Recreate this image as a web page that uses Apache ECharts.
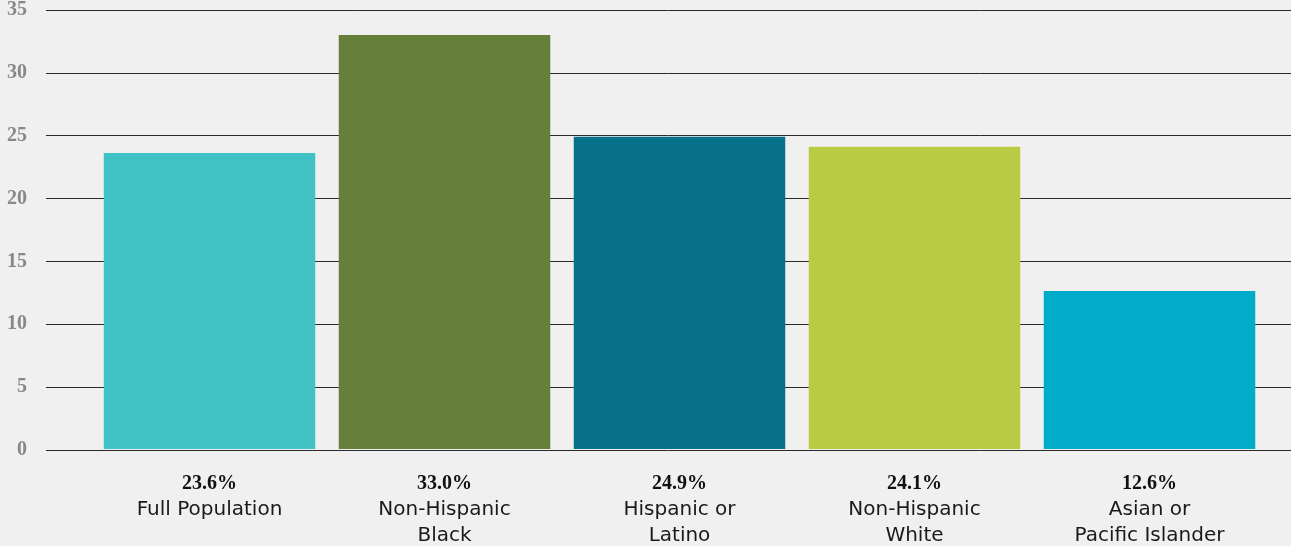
<!DOCTYPE html>
<html>
<head>
<meta charset="utf-8">
<script src="https://cdn.jsdelivr.net/npm/echarts@6/dist/echarts.min.js"></script>
<style>
  html, body { margin: 0; padding: 0; background: #f0f0f0; }
  #chart { width: 1291px; height: 546px; }
</style>
</head>
<body>
<div id="chart"></div>
<script>
// data
const categories = ["Full Population", "Non-Hispanic\nBlack", "Hispanic or\nLatino", "Non-Hispanic\nWhite", "Asian or\nPacific Islander"];
const values = [23.6, 33.0, 24.9, 24.1, 12.6];
const colors = ["#40c1c4", "#657e3a", "#077189", "#b9ca43", "#01acca"];
const yTicks = [0, 5, 10, 15, 20, 25, 30, 35];

let chart = echarts.init(document.getElementById("chart"));

const option = {
  backgroundColor: "#f0f0f0",
  animation: false,
  grid: [
    { left: 46, right: 0, top: 10, bottom: 96 },
    { left: 92, right: 24, top: 10, bottom: 96 }
  ],
  xAxis: [
    {
      gridIndex: 0,
      type: "category",
      data: categories,
      show: false
    },
    {
      gridIndex: 1,
      type: "category",
      data: categories,
      axisLine: { show: false },
      axisTick: { show: false },
      axisLabel: {
        margin: 22,
        interval: 0,
        formatter: function (name, i) {
          const lines = name.split("\n").map(function (l) { return "{n|" + l + "}"; });
          return "{v|" + values[i].toFixed(1) + "%}\n" + lines.join("\n");
        },
        rich: {
          v: { fontFamily: "Liberation Serif", fontWeight: "bold", fontSize: 20, color: "#111", lineHeight: 26 },
          n: { fontFamily: "DejaVu Sans", fontSize: 20, color: "#1a1a1a", lineHeight: 26 }
        }
      }
    }
  ],
  yAxis: [
    {
      gridIndex: 0,
      type: "value",
      min: yTicks[0],
      max: yTicks[yTicks.length - 1],
      interval: 5,
      axisLine: { show: false },
      axisTick: { show: false },
      splitLine: { lineStyle: { color: "#2a2a2a", width: 1 } },
      axisLabel: {
        margin: 19,
        fontFamily: "Liberation Serif",
        fontWeight: "bold",
        fontSize: 20,
        color: "#888"
      }
    },
    {
      gridIndex: 1,
      type: "value",
      min: yTicks[0],
      max: yTicks[yTicks.length - 1],
      interval: 5,
      show: false
    }
  ],
  series: [
    {
      type: "bar",
      xAxisIndex: 1,
      yAxisIndex: 1,
      barCategoryGap: "10%",
      data: values.map(function (v, i) {
        return { value: v, itemStyle: { color: colors[i] } };
      })
    }
  ]
};

chart.setOption(option);

window.addEventListener("resize", function () {
  chart.resize();
});
</script>
</body>
</html>
